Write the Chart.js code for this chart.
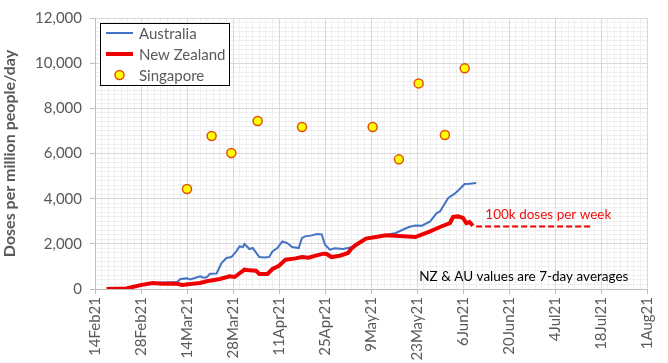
<!DOCTYPE html>
<html>
<head>
<meta charset="utf-8">
<script src="https://cdn.jsdelivr.net/npm/chart.js@4.4.1/dist/chart.umd.min.js"></script>
<style>
  html, body { margin: 0; padding: 0; background: #fff; }
  #wrap { width: 668px; height: 363px; }
</style>
</head>
<body>
<div id="wrap"><canvas id="vaxChart" width="668" height="363"></canvas></div>
<script>
// x values are days counted from 14 Feb 2021
const dateTicks = ["14Feb21", "28Feb21", "14Mar21", "28Mar21", "11Apr21", "25Apr21", "9May21",
                   "23May21", "6Jun21", "20Jun21", "4Jul21", "18Jul21", "1Aug21"];

const auDays = [8, 13.5, 17.5, 20.5, 25, 26, 28, 29, 32, 33, 34, 35, 37, 38.5, 40, 41.5, 43, 44, 45,
                45.5, 47, 48, 50, 51.5, 53, 54, 55.5, 57, 58.5, 60, 62, 63, 64, 66, 67.5, 69, 70,
                71.5, 73, 75.5, 77, 78, 80, 82.5, 85.5, 88.5, 91.5, 95.5, 97.5, 99.5, 102, 104, 105,
                107.5, 109.5, 111, 112.5, 114, 116];
const auValues = [0, 150, 260, 290, 310, 445, 470, 425, 560, 500, 515, 675, 690, 1150, 1375, 1415, 1665, 1885, 1860,
                  1995, 1770, 1815, 1415, 1400, 1415, 1665, 1815, 2110, 2035, 1860, 1815, 2260, 2330, 2375, 2435, 2420, 1960,
                  1740, 1800, 1770, 1815, 1850, 1980, 2240, 2310, 2380, 2480, 2745, 2815, 2805, 2995, 3365, 3435,
                  4030, 4220, 4430, 4650, 4665, 4695];

const nzDays = [3.5, 9.5, 13.5, 17.5, 20.5, 25, 26.5, 29, 32, 34, 38, 41, 42.5, 45.5, 47, 49, 50, 52.5,
                54, 56, 58, 61, 63, 65, 67.5, 69.5, 70.5, 72, 74.5, 77, 78, 79.5, 82.5, 85.5, 88.5,
                91.5, 97.5, 102, 105, 108, 109, 110.5, 112, 113, 114, 115];
const nzValues = [0, 20, 160, 265, 235, 235, 180, 220, 265, 340, 445, 560, 530, 855, 825, 810, 665, 665,
                  885, 1030, 1300, 1355, 1415, 1385, 1490, 1565, 1550, 1415, 1475, 1595, 1785, 1960, 2230, 2300, 2375,
                  2360, 2300, 2550, 2745, 2920, 3190, 3215, 3145, 2920, 2965, 2800];

const sgDays = [28, 35.5, 41.5, 49.5, 63, 84.5, 92.5, 98.5, 106.5, 112.5];
const sgValues = [4430, 6775, 6025, 7440, 7175, 7175, 5740, 9105, 6820, 9770];

const targetDays = [116, 151];
const targetValues = [2770, 2770];

const pairs = (xs, ys) => xs.map((d, i) => ({ x: d, y: ys[i] }));

const textGrey = "#595959";
const fontFamily = "Lato, 'Liberation Sans', sans-serif";

const overlay = {
    id: "overlay",
    afterDraw(chart) {
        const { ctx, scales: { x, y } } = chart;
        ctx.save();

        // legend box
        ctx.fillStyle = "#fff";
        ctx.fillRect(100.5, 23.5, 129, 62);
        ctx.strokeStyle = "#000";
        ctx.lineWidth = 1;
        ctx.strokeRect(100.5, 23.5, 129, 62);

        const rows = [33, 54, 75];
        const ds = chart.data.datasets;
        ctx.font = "15px " + fontFamily;
        ctx.textBaseline = "middle";
        for (let i = 0; i < 3; i++) {
            const d = ds[i];
            if (d.showLine === false) {
                ctx.beginPath();
                ctx.arc(119.5, rows[i], 4.5, 0, Math.PI * 2);
                ctx.fillStyle = d.backgroundColor;
                ctx.fill();
                ctx.lineWidth = d.borderWidth;
                ctx.strokeStyle = d.borderColor;
                ctx.stroke();
            } else {
                ctx.beginPath();
                ctx.moveTo(106, rows[i]);
                ctx.lineTo(133, rows[i]);
                ctx.lineWidth = d.borderWidth;
                ctx.strokeStyle = d.borderColor;
                ctx.stroke();
            }
            ctx.fillStyle = textGrey;
            ctx.fillText(d.label, 139, rows[i] + 1);
        }

        // notes
        ctx.font = "13.5px " + fontFamily;
        ctx.fillStyle = "#ee1111";
        ctx.fillText("100k doses per week", x.getPixelForValue(118.8), y.getPixelForValue(3300));
        ctx.font = "13.5px " + fontFamily;
        ctx.fillStyle = "#000";
        ctx.fillText("NZ & AU values are 7-day averages", x.getPixelForValue(98.7), y.getPixelForValue(560));
        ctx.restore();
    }
};

const ctx = document.getElementById("vaxChart").getContext("2d");

new Chart(ctx, {
    type: "scatter",
    data: {
        datasets: [
            {
                label: "Australia",
                data: pairs(auDays, auValues),
                showLine: true,
                borderColor: "#4472c4",
                borderWidth: 2,
                pointRadius: 0,
                order: 2
            },
            {
                label: "New Zealand",
                data: pairs(nzDays, nzValues),
                showLine: true,
                borderColor: "#ee0000",
                borderWidth: 4,
                pointRadius: 0,
                order: 1
            },
            {
                label: "Singapore",
                data: pairs(sgDays, sgValues),
                showLine: false,
                backgroundColor: "#ffff00",
                borderColor: "#e0500a",
                borderWidth: 1.5,
                pointRadius: 4.5,
                order: 0
            },
            {
                label: "100k doses per week",
                data: pairs(targetDays, targetValues),
                showLine: true,
                borderColor: "#ee0000",
                borderWidth: 2,
                borderDash: [6, 3],
                pointRadius: 0,
                order: 3
            }
        ]
    },
    options: {
        responsive: false,
        animation: false,
        layout: { padding: { top: 18, right: 20, left: 0, bottom: 0 } },
        plugins: {
            legend: { display: false },
            tooltip: { enabled: false }
        },
        scales: {
            xMinor: {
                type: "linear",
                position: "bottom",
                min: 0,
                max: 168,
                ticks: { display: false, stepSize: 2, maxTicksLimit: 100 },
                grid: { color: "#efefef", drawTicks: false, z: -1 },
                border: { display: false },
                afterFit: s => { s.height = 0; }
            },
            yMinor: {
                type: "linear",
                position: "left",
                min: 0,
                max: 12000,
                ticks: { display: false, stepSize: 200, maxTicksLimit: 100 },
                grid: { color: "#efefef", drawTicks: false, z: -1 },
                border: { display: false },
                afterFit: s => { s.width = 0; }
            },
            x: {
                type: "linear",
                position: "bottom",
                min: 0,
                max: 168,
                ticks: {
                    stepSize: 14,
                    maxTicksLimit: 20,
                    autoSkip: false,
                    minRotation: 90,
                    maxRotation: 90,
                    padding: 3,
                    color: textGrey,
                    font: { family: fontFamily, size: 15 },
                    callback: v => dateTicks[Math.round(v / 14)]
                },
                grid: { color: "#d9d9d9", tickLength: 5, tickColor: "#bfbfbf" },
                border: { color: "#bfbfbf" },
                afterFit: s => { s.height = 74; }
            },
            y: {
                type: "linear",
                position: "left",
                min: 0,
                max: 12000,
                ticks: {
                    stepSize: 2000,
                    padding: 8,
                    color: textGrey,
                    font: { family: fontFamily, size: 15 },
                    callback: v => v.toLocaleString("en-US")
                },
                title: {
                    display: true,
                    text: "Doses per million people/day",
                    color: textGrey,
                    font: { family: fontFamily, size: 16, weight: "bold" },
                    padding: 0
                },
                grid: { color: "#d9d9d9", tickLength: 5, tickColor: "#bfbfbf" },
                border: { color: "#bfbfbf" },
                afterFit: s => { s.width = 95; }
            }
        }
    },
    plugins: [overlay]
});
</script>
</body>
</html>
